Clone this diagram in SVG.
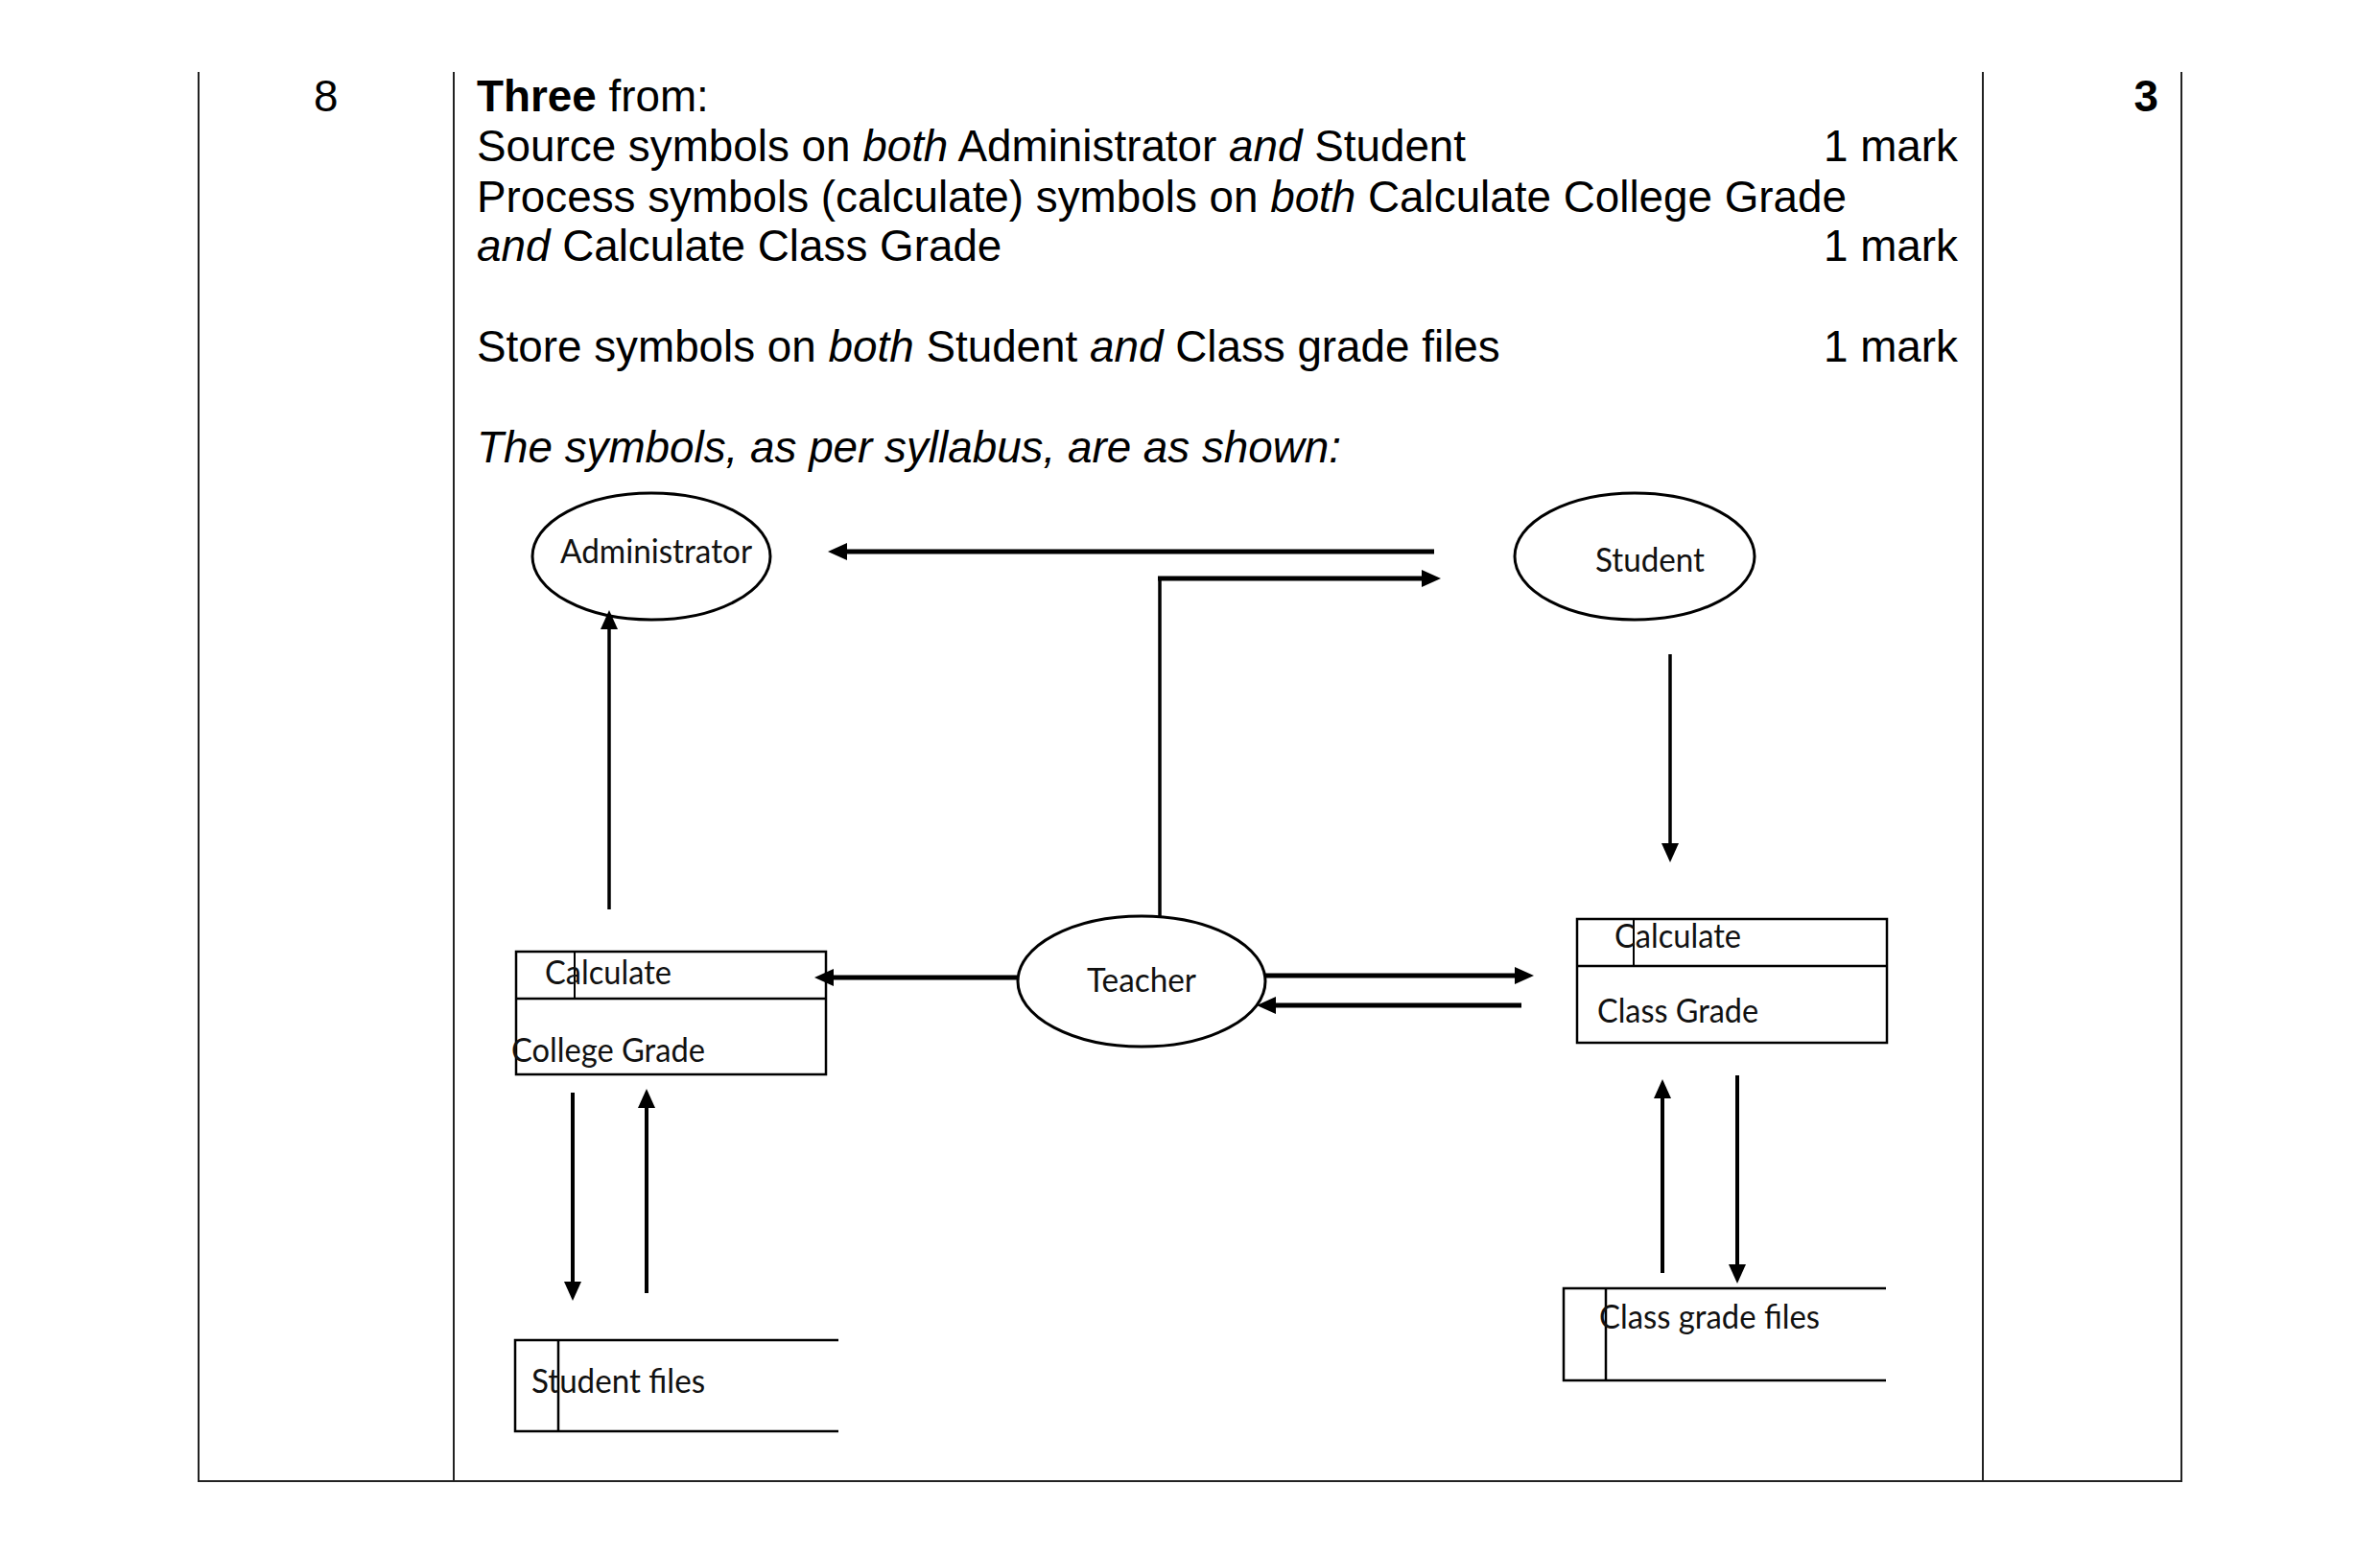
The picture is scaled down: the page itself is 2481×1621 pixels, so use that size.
<svg xmlns="http://www.w3.org/2000/svg" width="2481" height="1621" viewBox="0 0 2481 1621">
<style>
.hd{font-family:"Liberation Sans",Arial,sans-serif;font-size:45.8px;fill:#000}
.b{font-weight:bold}
.i{font-style:italic}
.lbl{font-family:Lato,"Open Sans",sans-serif;font-size:34px;fill:#111}
.tbl{stroke:#222;stroke-width:2;fill:none}
.shape{stroke:#000;stroke-width:3;fill:none}
.box{stroke:#000;stroke-width:2.5;fill:none}
.thin{stroke:#000;stroke-width:2;fill:none}
.fl{stroke:#000;fill:none;marker-end:url(#ah)}
</style>
<defs>
<marker id="ah" markerUnits="userSpaceOnUse" markerWidth="20" markerHeight="18" viewBox="0 0 20 18" refX="10" refY="9" orient="auto">
<path d="M0,0 L20,9 L0,18 z" fill="#000"/>
</marker>
</defs>
<rect width="2481" height="1621" fill="#fff"/>
<g id="table">
<line class="tbl" x1="207" y1="75" x2="207" y2="1544"/>
<line class="tbl" x1="473" y1="75" x2="473" y2="1544"/>
<line class="tbl" x1="2067" y1="75" x2="2067" y2="1544"/>
<line class="tbl" x1="2274" y1="75" x2="2274" y2="1544"/>
<line class="tbl" x1="206" y1="1544" x2="2275" y2="1544"/>
</g>
<g id="header-text">
<text class="hd" x="327" y="116">8</text>
<text class="hd b" x="2250" y="116" text-anchor="end">3</text>
<text class="hd" x="497" y="116"><tspan class="b">Three</tspan> from:</text>
<text class="hd" x="497" y="168">Source symbols on <tspan class="i">both</tspan> Administrator <tspan class="i">and</tspan> Student</text>
<text class="hd" x="2041" y="168" text-anchor="end">1 mark</text>
<text class="hd" x="497" y="221">Process symbols (calculate) symbols on <tspan class="i">both</tspan> Calculate College Grade</text>
<text class="hd" x="497" y="272"><tspan class="i">and</tspan> Calculate Class Grade</text>
<text class="hd" x="2041" y="272" text-anchor="end">1 mark</text>
<text class="hd" x="497" y="377">Store symbols on <tspan class="i">both</tspan> Student <tspan class="i">and</tspan> Class grade files</text>
<text class="hd" x="2041" y="377" text-anchor="end">1 mark</text>
<text class="hd i" x="497" y="482">The symbols, as per syllabus, are as shown:</text>
</g>
<g id="administrator">
<ellipse class="shape" cx="679" cy="580" rx="124" ry="66"/>
<text class="lbl" x="584" y="587" textLength="200" lengthAdjust="spacingAndGlyphs">Administrator</text>
</g>
<g id="student">
<ellipse class="shape" cx="1704" cy="580" rx="125" ry="66"/>
<text class="lbl" x="1663" y="596" textLength="114" lengthAdjust="spacingAndGlyphs">Student</text>
</g>
<g id="teacher">
<ellipse class="shape" cx="1190" cy="1023" rx="129" ry="68"/>
<text class="lbl" x="1133" y="1034" textLength="114" lengthAdjust="spacingAndGlyphs">Teacher</text>
</g>
<g id="calc-college-grade">
<rect class="box" x="538" y="992" width="323" height="128"/>
<line class="box" x1="538" y1="1041" x2="861" y2="1041"/>
<line class="thin" x1="599" y1="992" x2="599" y2="1041"/>
<text class="lbl" x="568" y="1026" textLength="132" lengthAdjust="spacingAndGlyphs">Calculate</text>
<text class="lbl" x="533" y="1107" textLength="202" lengthAdjust="spacingAndGlyphs">College Grade</text>
</g>
<g id="calc-class-grade">
<rect class="box" x="1644" y="958" width="323" height="129"/>
<line class="box" x1="1644" y1="1007" x2="1967" y2="1007"/>
<line class="thin" x1="1703" y1="958" x2="1703" y2="1007"/>
<text class="lbl" x="1683" y="988" textLength="132" lengthAdjust="spacingAndGlyphs">Calculate</text>
<text class="lbl" x="1665" y="1066" textLength="168" lengthAdjust="spacingAndGlyphs">Class Grade</text>
</g>
<g id="student-files">
<path class="box" d="M874,1397 H537 V1492 H874"/>
<line class="box" x1="582" y1="1397" x2="582" y2="1492"/>
<text class="lbl" x="554" y="1452" textLength="181" lengthAdjust="spacingAndGlyphs">Student files</text>
</g>
<g id="class-grade-files">
<path class="box" d="M1966,1343 H1630 V1439 H1966"/>
<line class="box" x1="1674" y1="1343" x2="1674" y2="1439"/>
<text class="lbl" x="1667" y="1385" textLength="230" lengthAdjust="spacingAndGlyphs">Class grade files</text>
</g>
<g id="connectors">
<line class="fl" stroke-width="5" x1="1495" y1="575" x2="873" y2="575"/>
<line stroke="#000" stroke-width="3.5" x1="1209" y1="955" x2="1209" y2="601"/>
<line class="fl" stroke-width="5" x1="1207" y1="603" x2="1492" y2="603"/>
<line class="fl" stroke-width="3.5" x1="635" y1="948" x2="635" y2="646"/>
<line class="fl" stroke-width="3.5" x1="1741" y1="682" x2="1741" y2="889"/>
<line class="fl" stroke-width="5" x1="1060" y1="1019" x2="859" y2="1019"/>
<line class="fl" stroke-width="5" x1="1319" y1="1017" x2="1589" y2="1017"/>
<line class="fl" stroke-width="5" x1="1586" y1="1048" x2="1320" y2="1048"/>
<line class="fl" stroke-width="4" x1="597" y1="1139" x2="597" y2="1346"/>
<line class="fl" stroke-width="4" x1="674" y1="1348" x2="674" y2="1145"/>
<line class="fl" stroke-width="4" x1="1733" y1="1327" x2="1733" y2="1135"/>
<line class="fl" stroke-width="4" x1="1811" y1="1121" x2="1811" y2="1328"/>
</g>
</svg>
